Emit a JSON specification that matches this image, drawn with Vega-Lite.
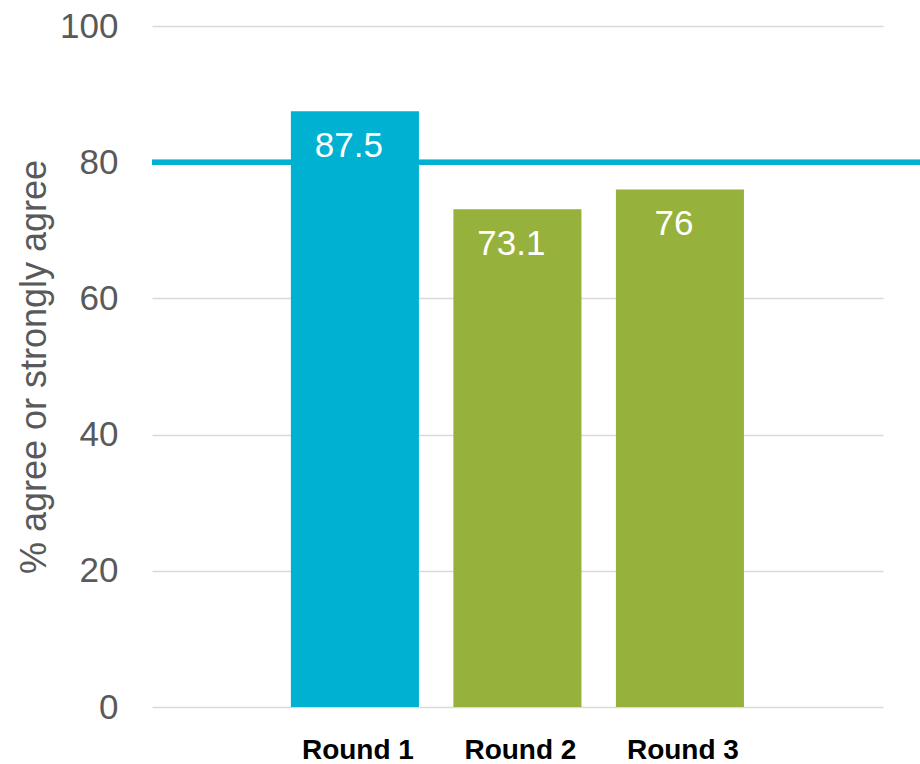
{
  "$schema": "https://vega.github.io/schema/vega-lite/v6.json",
  "width": 768,
  "height": 681,
  "autosize": {"type": "none"},
  "padding": {"left": 152, "top": 26, "right": 0, "bottom": 57},
  "background": "white",
  "config": {"view": {"stroke": null}, "font": "Liberation Sans"},
  "data": {
    "values": [
      {"round": "Round 1", "value": 87.5},
      {"round": "Round 2", "value": 73.1},
      {"round": "Round 3", "value": 76}
    ]
  },
  "layer": [
    {
      "mark": {"type": "rule", "color": "#00B1D2", "strokeWidth": 5},
      "encoding": {
        "y": {"datum": 80, "type": "quantitative", "scale": {"domain": [0, 100], "nice": false}}
      }
    },
    {
      "mark": {"type": "bar"},
      "encoding": {
        "x": {
          "field": "round",
          "type": "nominal",
          "sort": null,
          "scale": {"paddingInner": 0.212, "paddingOuter": 0.969, "align": 0.441},
          "axis": {
            "title": null,
            "labelFontSize": 28,
            "labelFontWeight": "bold",
            "labelColor": "#000000",
            "domain": false,
            "ticks": false,
            "labelPadding": 29,
            "labelAngle": 0,
            "labelOffset": 3
          }
        },
        "y": {
          "field": "value",
          "type": "quantitative",
          "scale": {"domain": [0, 100], "nice": false},
          "axis": {
            "title": "% agree or strongly agree",
            "titleFontSize": 36,
            "titleFontWeight": "normal",
            "titleColor": "#595959",
            "titlePadding": 6,
            "labelFontSize": 35,
            "labelColor": "#595959",
            "labelPadding": 765,
            "domain": false,
            "ticks": true,
            "tickSize": -731,
            "tickColor": "#D9D9D9",
            "tickWidth": 1.5,
            "grid": false,
            "values": [0, 20, 40, 60, 80, 100]
          }
        },
        "color": {
          "field": "round",
          "type": "nominal",
          "scale": {"domain": ["Round 1", "Round 2", "Round 3"], "range": ["#00B1D2", "#97B13D", "#97B13D"]},
          "legend": null
        }
      }
    },
    {
      "mark": {"type": "text", "color": "#FFFFFF", "fontSize": 35, "baseline": "alphabetic", "dy": 46, "dx": -6},
      "encoding": {
        "x": {"field": "round", "type": "nominal", "sort": null},
        "y": {"field": "value", "type": "quantitative"},
        "text": {"field": "value", "type": "quantitative"}
      }
    }
  ]
}
